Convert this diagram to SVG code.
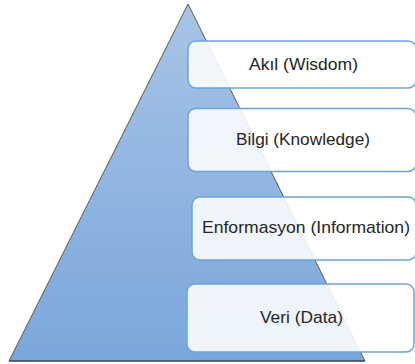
<svg xmlns="http://www.w3.org/2000/svg" width="415" height="364" viewBox="0 0 415 364">
<defs>
<linearGradient id="tri" x1="0" y1="0" x2="0" y2="1">
<stop offset="0" stop-color="#a7c4e6"/>
<stop offset="1" stop-color="#7aa7db"/>
</linearGradient>
<style>
.box{fill:#ffffff;fill-opacity:0.87;stroke:#6ea2d8;stroke-width:1.5}
.lbl{font-family:"Liberation Sans",Arial,sans-serif;font-size:17px;fill:#262626;text-anchor:middle}
</style>
</defs>
<rect width="415" height="364" fill="#ffffff"/>
<g id="pyramid">
<polygon points="188,4 9,361 365,361" fill="url(#tri)" stroke="#5a5a5a" stroke-width="1"/>
<line x1="9" y1="361" x2="365" y2="361" stroke="#44546a" stroke-width="1.5"/>
</g>
<g id="connectors"></g>
<g id="wisdom">
<rect class="box" x="188" y="41" width="228" height="47" rx="8"/>
<text class="lbl" x="303.5" y="70" textLength="109" lengthAdjust="spacingAndGlyphs">Akıl (Wisdom)</text>
</g>
<g id="knowledge">
<rect class="box" x="188" y="108.5" width="228" height="63" rx="8"/>
<text class="lbl" x="303" y="145" textLength="134" lengthAdjust="spacingAndGlyphs">Bilgi (Knowledge)</text>
</g>
<g id="information">
<rect class="box" x="192" y="197" width="224" height="63" rx="8"/>
<text class="lbl" x="306" y="233" textLength="208" lengthAdjust="spacingAndGlyphs">Enformasyon (Information)</text>
</g>
<g id="data">
<rect class="box" x="187" y="284" width="227" height="68" rx="8"/>
<text class="lbl" x="301.5" y="323" textLength="83" lengthAdjust="spacingAndGlyphs">Veri (Data)</text>
</g>
</svg>
